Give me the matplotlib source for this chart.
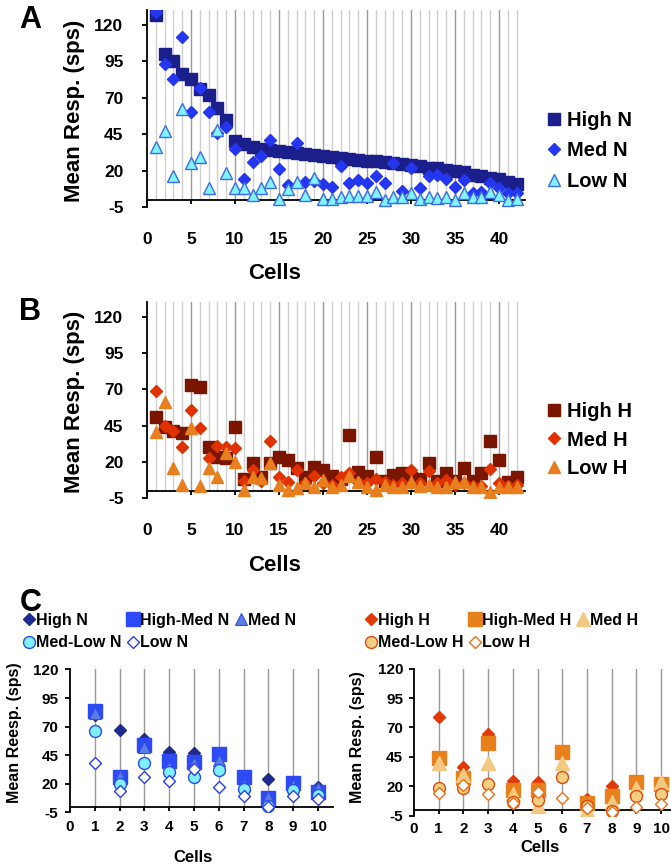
import numpy as np
import matplotlib
matplotlib.use("Agg")
import matplotlib.pyplot as plt

plt.rcParams['font.family'] = ['Liberation Sans', 'DejaVu Sans']
plt.rcParams['font.weight'] = 'bold'
plt.rcParams['axes.unicode_minus'] = False

# ---- panel A / B data (42 cells) ----
cells_ab = np.arange(1, 43)
high_n = [127, 100, 95, 86, 83, 76, 72, 63, 55, 40,
          38, 36, 35, 34, 33.4, 32.7, 32, 31.4, 30.8, 30.1,
          29.5, 28.8, 28.2, 27.5, 26.9, 26.3, 25.6, 25, 24.5, 24,
          23, 22, 21.5, 20.5, 20, 19, 17, 16, 15, 14, 12.5, 11]
med_n = [129, 93, 83, 112, 60, 77, 60, 46, 50, 35,
         14, 26, 30, 41, 21, 10, 39, 12, 13, 10.5,
         8.5, 23, 11.5, 13.5, 11.5, 16, 11.5, 25.5, 6, 21.5,
         8, 16, 17, 14.5, 9, 13.5, 4.7, 5, 11.5, 8, 4.7, 4.7]
low_n = [36, 47, 16, 62, 25, 29.5, 8, 48, 18.5, 8,
         8, 3.5, 8, 12, 0.2, 7.7, 12.3, 3.2, 14.6, 0.5,
         0.4, 1.6, 2.5, 2.5, 2.5, 5, 0, 1.6, 1.6, 4.3,
         0.4, 1.6, 1, 1.6, -0.3, 4.3, 1.8, 1.8, 5.4, 3.6, -0.3, 0.4]

high_h = [51, 44, 41, 40, 73, 71.5, 30.5, 23, 22.5, 44,
          8, 19, 9.5, 19, 23.5, 21, 15.5, 9.5, 16.5, 14.3,
          10, 8, 38.5, 13, 10, 23, 7, 10.8, 12, 8.5,
          8, 19, 7, 12, 7, 15.5, 7, 12.4, 34.5, 21, 6, 9.7]
med_h = [69, 44.5, 41, 30, 55.5, 43, 22.5, 31, 30, 29.5,
         7, 14, 7, 34, 9.5, 6.2, 14.3, 5, 10, 5,
         4, 9.2, 12, 6, 5, 8, 6.2, 4, 5, 14,
         5, 13.5, 5, 7.4, 4, 5, 3, 3, 14.8, 5, 3, 4]
low_h = [40.5, 61, 15.5, 4, 43, 3, 15.5, 9.7, 25.8, 20,
         0.5, 9.7, 9, 19, 4, 0.5, 1.6, 5, 2.3, 7.4,
         2.3, 4, 10, 6.2, 2.3, 0.5, 4, 2.3, 2.3, 6.2,
         3, 4, 2.3, 2.3, 6.2, 6.2, 2.3, 2.3, -0.7, 2.3, 2.3, 2.3]

# ---- panel C data (10 cells) ----
cells_c = np.arange(1, 11)
high_n_c = [80, 67, 59, 48, 47, 44, 26, 24, 21, 17.5]
highmed_n_c = [84, 26, 54, 40, 39.5, 46, 26, 7.5, 21, 13]
med_n_c = [82, 27, 52, 35, 38, 41, 19, 8.5, 19, 16.5]
medlow_n_c = [66.5, 20, 38, 30.7, 26, 32, 15.6, 0.7, 14.7, 10.3]
low_n_c = [38, 14, 26.3, 22.8, 32.8, 17, 9, 0, 9, 6.6]

high_h_c = [78.5, 36.7, 64.4, 25, 24, 50, 9, 20, 25, 22.5]
highmed_h_c = [44, 27, 56.5, 17, 17, 49.5, 5.6, 12, 24, 22]
med_h_c = [39.5, 29.7, 39.5, 14, 3.4, 39.5, 0, 7, 18.4, 24]
medlow_h_c = [19, 18.4, 22, 7, 8.5, 28.2, 3.4, -0.6, 12, 14]
low_h_c = [14.7, 21.2, 13.6, 6.2, 15.5, 10, 1.4, -1.4, 2.3, 5]

yticks = [-5, 20, 45, 70, 95, 120]


def style_axis(ax, xmax, ytop, xticks, grid_x, tick_fs, xpad, ypad, major_every=None):
    ax.set_xlim(0, xmax)
    ax.set_ylim(-5, ytop)
    for x in grid_x:
        c = '#9a9a9a' if (major_every is None or x % major_every == 0) else '#cfcfcf'
        ax.plot([x, x], [0, ytop], color=c, lw=1.0, zorder=0)
    ax.spines['top'].set_visible(False)
    ax.spines['right'].set_visible(False)
    ax.spines['bottom'].set_position(('data', 0))
    ax.spines['left'].set_linewidth(1.3)
    ax.spines['bottom'].set_linewidth(1.3)
    ax.set_xticks(xticks)
    ax.set_yticks(yticks)
    ax.tick_params(axis='x', direction='out', length=3, width=1.3, pad=xpad, labelsize=tick_fs)
    ax.tick_params(axis='y', direction='out', length=3.5, width=1.3, pad=ypad, labelsize=tick_fs)
    for lab in ax.get_xticklabels() + ax.get_yticklabels():
        lab.set_fontweight('bold')


fig = plt.figure(figsize=(6.71, 8.67), dpi=100)

# ---------- Panel A ----------
axA = fig.add_axes([0.2191, 0.7612, 0.564, 0.2268])
style_axis(axA, 43, 130, range(0, 45, 5), range(1, 43), 12.5, 20, 13.5, major_every=5)
axA.plot(cells_ab, high_n, 's', ms=9.3, color='#1a1f8c', mec='#1a1f8c', label='High N', zorder=3)
axA.plot(cells_ab, med_n, 'D', ms=6.5, color='#2436f0', mec='#2436f0', label='Med N', zorder=4)
axA.plot(cells_ab, low_n, '^', ms=9, color='#80f4ff', mec='#3f6be8', mew=1.0, label='Low N', zorder=5)
axA.set_ylabel('Mean Resp. (sps)', fontsize=16, fontweight='bold')
axA.yaxis.set_label_coords(-0.163, 0.49)
axA.set_xlabel('Cells', fontsize=16, fontweight='bold')
axA.xaxis.set_label_coords(0.338, -0.285)
axA.legend(loc='center left', bbox_to_anchor=(0.81, 0.826), bbox_transform=fig.transFigure,
           frameon=False, fontsize=14.5, handlelength=1.0, handletextpad=0.15,
           labelspacing=0.56, borderpad=0, borderaxespad=0)
fig.text(0.028, 0.977, 'A', fontsize=22, fontweight='bold', va='center')

# ---------- Panel B ----------
axB = fig.add_axes([0.2191, 0.4257, 0.564, 0.2255])
style_axis(axB, 43, 130, range(0, 45, 5), range(1, 43), 12.5, 20, 13.5, major_every=5)
axB.plot(cells_ab, high_h, 's', ms=9.3, color='#7a1600', mec='#7a1600', label='High H', zorder=3)
axB.plot(cells_ab, med_h, 'D', ms=6.5, color='#e03200', mec='#e03200', label='Med H', zorder=4)
axB.plot(cells_ab, low_h, '^', ms=9, color='#e87e1e', mec='#e87e1e', label='Low H', zorder=5)
axB.set_ylabel('Mean Resp. (sps)', fontsize=16, fontweight='bold')
axB.yaxis.set_label_coords(-0.163, 0.49)
axB.set_xlabel('Cells', fontsize=16, fontweight='bold')
axB.xaxis.set_label_coords(0.338, -0.29)
axB.legend(loc='center left', bbox_to_anchor=(0.81, 0.4925), bbox_transform=fig.transFigure,
           frameon=False, fontsize=14.5, handlelength=1.0, handletextpad=0.15,
           labelspacing=0.46, borderpad=0, borderaxespad=0)
fig.text(0.028, 0.64, 'B', fontsize=22, fontweight='bold', va='center')

# ---------- Panel C left ----------
axC1 = fig.add_axes([0.1043, 0.0629, 0.3918, 0.165])
style_axis(axC1, 10.6, 120, range(0, 11), range(1, 11), 11, 6.4, 4.8)
h1, = axC1.plot(cells_c, high_n_c, 'D', ms=6.6, color='#1f2a8f', label='High N', zorder=3)
h2, = axC1.plot(cells_c, highmed_n_c, 's', ms=9.6, color='#2c4af5', label='High-Med N', zorder=4)
h3, = axC1.plot(cells_c, med_n_c, '^', ms=9, color='#5a7de8', mec='#3450d8', mew=0.8, label='Med N', zorder=5)
h4, = axC1.plot(cells_c, medlow_n_c, 'o', ms=8.6, color='#80f0ff', mec='#2c4af5', mew=1.0, label='Med-Low N', zorder=6)
h5, = axC1.plot(cells_c, low_n_c, 'D', ms=6, color='white', mec='#2c3cf0', mew=1.0, label='Low N', zorder=7)
axC1.set_ylabel('Mean Reesp. (sps)', fontsize=11.5, fontweight='bold')
axC1.yaxis.set_label_coords(-0.183, 0.56)
axC1.set_xlabel('Cells', fontsize=12, fontweight='bold')
axC1.xaxis.set_label_coords(0.468, -0.262)
axC1.legend([h1, h4, h2, h5, h3], ['High N', 'Med-Low N', 'High-Med N', 'Low N', 'Med N'],
            ncol=3, loc='upper left', bbox_to_anchor=(0.035, 0.293), bbox_transform=fig.transFigure,
            frameon=False, fontsize=11.5, handlelength=0.7, handletextpad=0.1,
            columnspacing=0.35, labelspacing=0.45, borderpad=0, borderaxespad=0)
fig.text(0.03, 0.304, 'C', fontsize=22, fontweight='bold', va='center')

# ---------- Panel C right ----------
axC2 = fig.add_axes([0.617, 0.0589, 0.383, 0.170])
style_axis(axC2, 10.4, 120, range(0, 11), range(1, 11), 11, 5.5, 4.3)
g1, = axC2.plot(cells_c, high_h_c, 'D', ms=6.6, color='#e03a08', label='High H', zorder=3)
g2, = axC2.plot(cells_c, highmed_h_c, 's', ms=9.6, color='#e8801c', label='High-Med H', zorder=4)
g3, = axC2.plot(cells_c, med_h_c, '^', ms=9.5, color='#f2c982', label='Med H', zorder=5)
g4, = axC2.plot(cells_c, medlow_h_c, 'o', ms=8.6, color='#f5d083', mec='#e04a10', mew=1.0, label='Med-Low H', zorder=6)
g5, = axC2.plot(cells_c, low_h_c, 'D', ms=6, color='white', mec='#e87018', mew=1.0, label='Low H', zorder=7)
axC2.set_ylabel('Mean Resp. (sps)', fontsize=11.5, fontweight='bold')
axC2.yaxis.set_label_coords(-0.19, 0.537)
axC2.set_xlabel('Cells', fontsize=12, fontweight='bold')
axC2.xaxis.set_label_coords(0.49, -0.163)
axC2.legend([g1, g4, g2, g5, g3], ['High H', 'Med-Low H', 'High-Med H', 'Low H', 'Med H'],
            ncol=3, loc='upper left', bbox_to_anchor=(0.545, 0.293), bbox_transform=fig.transFigure,
            frameon=False, fontsize=11.5, handlelength=0.7, handletextpad=0.1,
            columnspacing=0.35, labelspacing=0.45, borderpad=0, borderaxespad=0)

fig.savefig('out.png', dpi=100)
